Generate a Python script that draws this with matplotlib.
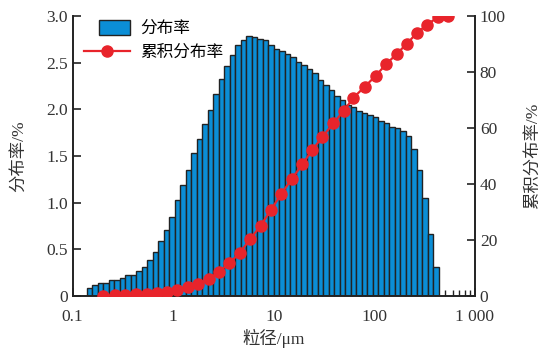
import matplotlib
matplotlib.use('Agg')
import matplotlib.pyplot as plt
import matplotlib.patches as mpatches
from matplotlib.legend_handler import HandlerPatch
import numpy as np

plt.rcParams['font.family'] = ['Liberation Serif', 'Noto Sans CJK SC']
plt.rcParams['font.size'] = 12.5

# size class edges (um), 64 classes
edges = [0.1377, 0.1562, 0.1771, 0.2009, 0.2279, 0.2585, 0.2932, 0.3325, 0.3772, 0.4278,
         0.4853, 0.5504, 0.6243, 0.7081, 0.8032, 0.9110, 1.033, 1.172, 1.329, 1.508,
         1.710, 1.940, 2.200, 2.495, 2.830, 3.210, 3.641, 4.130, 4.684, 5.313,
         6.026, 6.835, 7.753, 8.794, 9.970, 11.31, 12.83, 14.55, 16.51, 18.72,
         21.23, 24.08, 27.32, 30.99, 35.15, 39.86, 45.22, 51.29, 58.17, 65.98,
         74.82, 84.88, 96.25, 109.2, 123.8, 140.5, 159.3, 180.7, 205.0, 232.5,
         263.6, 299.0, 339.2, 384.7, 436.3]

# distribution (%) per class
dist = [0.09, 0.118, 0.14, 0.14, 0.17, 0.17, 0.196, 0.225, 0.225, 0.27,
        0.31, 0.39, 0.475, 0.59, 0.71, 0.85, 1.03, 1.19, 1.35, 1.53,
        1.68, 1.84, 1.99, 2.16, 2.32, 2.46, 2.58, 2.69, 2.74, 2.79,
        2.78, 2.75, 2.74, 2.69, 2.65, 2.62, 2.59, 2.56, 2.51, 2.475,
        2.43, 2.39, 2.31, 2.26, 2.21, 2.14, 2.10, 2.05, 2.02, 1.985,
        1.96, 1.94, 1.915, 1.87, 1.85, 1.81, 1.80, 1.77, 1.71, 1.58,
        1.35, 1.05, 0.66, 0.31]

# cumulative curve
cum_x = [0.2014, 0.2633, 0.331, 0.4258, 0.544, 0.684, 0.860, 1.096, 1.390, 1.772,
         2.264, 2.847, 3.604, 4.603, 5.787, 7.39, 9.36, 11.77, 15.03, 19.16,
         24.19, 30.42, 39.11, 49.75, 61.84, 80.46, 102.8, 130.1, 166.3, 209.0,
         262.8, 330.3, 424.8, 541.6]
cum_y = [0.1, 0.2, 0.4, 0.6, 0.8, 1.2, 1.6, 2.1, 3.2, 4.2,
         6.1, 8.7, 11.7, 15.5, 20.2, 25.1, 30.7, 36.3, 41.7, 47.0,
         52.2, 56.8, 61.7, 66.2, 70.8, 74.8, 78.6, 82.7, 86.4, 90.0,
         93.8, 96.8, 99.5, 100.0]

xticks = [0.1, 1, 10, 100, 1000]
xticklabels = ['0.1', '1', '10', '100', '1 000']
yticks = [0, 0.5, 1.0, 1.5, 2.0, 2.5, 3.0]
yticklabels = ['0', '0.5', '1.0', '1.5', '2.0', '2.5', '3.0']
y2ticks = [0, 20, 40, 60, 80, 100]


def short_patch(legend, orig_handle, xdescent, ydescent, width, height, fontsize):
    # narrower box sitting at the right end of the handle
    return mpatches.Rectangle((-xdescent + width * 0.32, -ydescent - 1),
                              width * 0.68, height + 2)


fig = plt.figure(figsize=(5.44, 3.52), dpi=100)
ax = fig.add_axes([0.1336, 0.159, 0.7394, 0.7955])
ax.set_axisbelow(True)

left = np.array(edges[:-1])
widths = np.diff(edges)
bars = ax.bar(left, dist, width=widths, align='edge', color='#0b8ed6',
              edgecolor='#222222', linewidth=1.0, label='分布率')
ax.set_xscale('log')
ax.set_xlim(0.1, 1000)
ax.set_ylim(0, 3.0)
ax.set_xticks(xticks)
ax.set_xticklabels(xticklabels)
ax.set_yticks(yticks)
ax.set_yticklabels(yticklabels)
ax.tick_params(which='major', direction='in', length=6, width=1.2, colors='#222222',
               labelcolor='#333333')
ax.tick_params(which='minor', direction='in', length=4, width=1.0, colors='#222222')
ax.tick_params(axis='x', pad=9)
ax.spines['top'].set_visible(False)
ax.spines['right'].set_visible(False)
for s in ['left', 'bottom']:
    ax.spines[s].set_linewidth(1.4)
    ax.spines[s].set_color('#222222')
    ax.spines[s].set_zorder(3)
ax.set_xlabel('粒径/μm', color='#333333', labelpad=3)
ax.set_ylabel('分布率/%', color='#333333', labelpad=14)

ax2 = ax.twinx()
line, = ax2.plot(cum_x, cum_y, '-o', color='#e8242b', markersize=8, linewidth=1.6,
                 label='累积分布率')
ax2.set_ylim(0, 100)
ax2.set_yticks(y2ticks)
ax2.tick_params(direction='in', length=6, width=1.2, colors='#222222', labelcolor='#333333')
ax2.spines['top'].set_visible(False)
ax2.spines['left'].set_visible(False)
ax2.spines['bottom'].set_visible(False)
ax2.spines['right'].set_linewidth(1.4)
ax2.spines['right'].set_color('#222222')
ax2.set_ylabel('累积分布率/%', color='#333333', labelpad=14)

bar_handle = bars.patches[0]
ax2.legend([bar_handle, line], ['分布率', '累积分布率'], loc='upper left',
           bbox_to_anchor=(-0.01, 1.035), frameon=False, handlelength=2.8,
           handletextpad=0.6, labelspacing=0.45, fontsize=12,
           handler_map={bar_handle: HandlerPatch(patch_func=short_patch)})

fig.savefig('out.png', dpi=100)
